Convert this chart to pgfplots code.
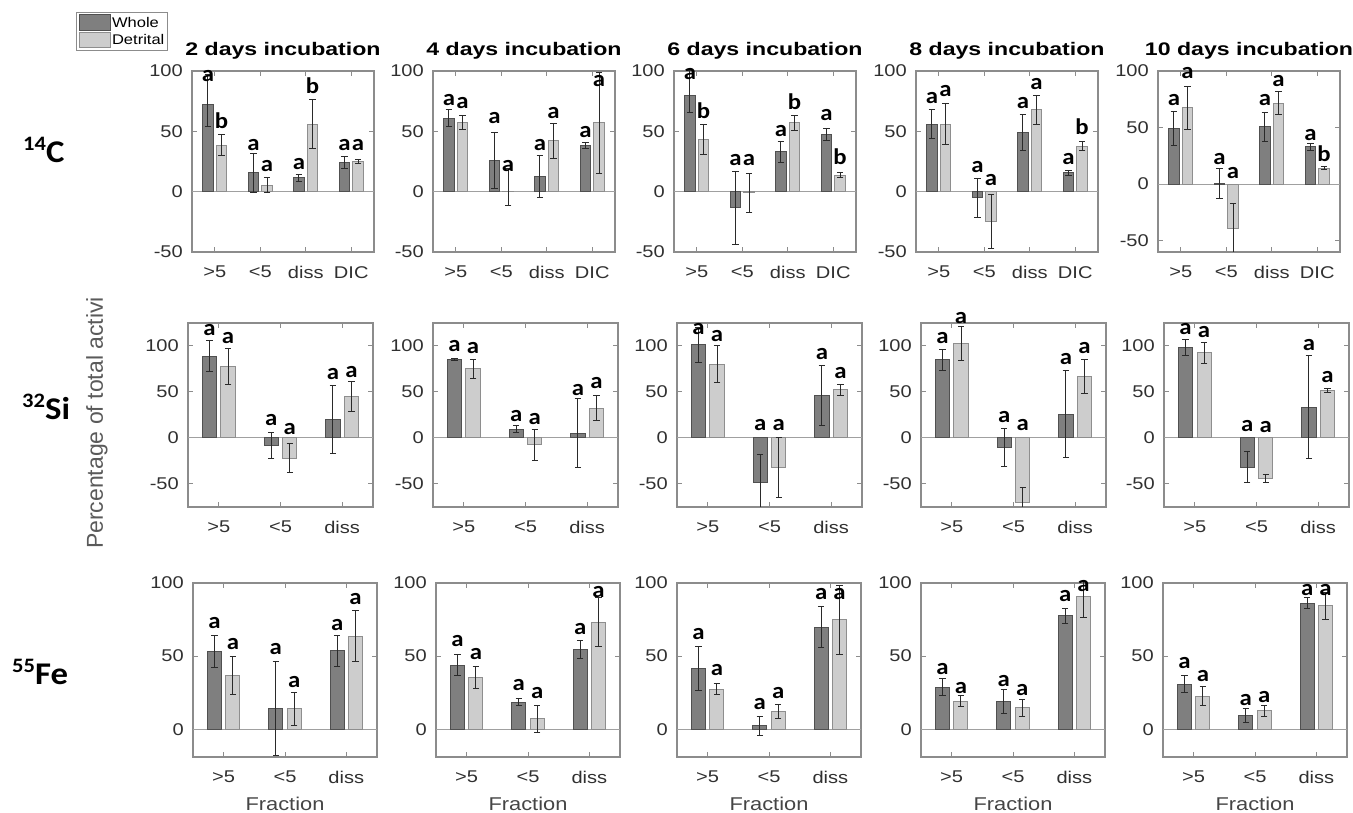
\documentclass[border=0pt]{standalone}
\usepackage{pgfplots}
\pgfplotsset{compat=1.18}
\usepackage{pgfplotstable}
\usepackage{fontspec}
\setmainfont{Liberation Sans}[FakeStretch=1.18]
\newfontfamily\titlefont{Liberation Sans}[FakeStretch=1.27]
\newfontfamily\ylabfont{Liberation Sans}
\newfontfamily\letfont{Carlito}[FakeStretch=1.1]

\definecolor{wholefill}{HTML}{7F7F7F}
\definecolor{wholeedge}{HTML}{505050}
\definecolor{detfill}{HTML}{CDCDCD}
\definecolor{detedge}{HTML}{8E8E8E}
\definecolor{axcol}{HTML}{8C8C8C}
\definecolor{errcol}{HTML}{2A2A2A}
\definecolor{ticktext}{HTML}{303030}
\definecolor{labgray}{HTML}{454545}
\definecolor{ylabgray}{HTML}{5A5A5A}
\definecolor{zerogray}{HTML}{A0A0A0}

\newcommand\letterfont{\letfont\bfseries\fontsize{22.5}{22}\selectfont}
\newcommand\tickfont{\fontsize{17}{18}\selectfont}
\newcommand\rowlab[2]{\raisebox{12pt}{\letfont\bfseries\fontsize{20.5}{21}\selectfont #1}{\letfont\bfseries\fontsize{31.6}{32}\selectfont #2}}

% columns: x, Whole value, +err, -err, letter height, letter, Detrital value, +err, -err, letter height, letter
% ---------- 14C ----------
\pgfplotstableread{
x w wp wm wy wl d dp dm dy dl
1 72 25 18 91 a 38.5 8.5 8.5 52 b
2 15.5 16 16 34 a 5.5 6 6 16 a
3 11.5 3 3 18 a 56 20.5 20.5 81 b
4 24.5 5 5 34 a 25.2 1.5 1.5 34 a
}\TCa
\pgfplotstableread{
x w wp wm wy wl d dp dm dy dl
1 61 7 7 71.5 a 57.5 6 6 69 a
2 26 23 23 56 a 0.5 19 12 16 a
3 12.5 17.5 17.5 33.5 a 42 14.5 14.5 60.5 a
4 38 2.6 2.6 44.5 a 57 42 42 87 a
}\TCb
\pgfplotstableread{
x w wp wm wy wl d dp dm dy dl
1 80 20 14 93 a 43 12.3 12.3 60.5 b
2 -13.5 30 30 21.5 a -1 16.4 16.4 21.5 a
3 33 8.5 8.5 45.5 a 57 6 6 67.5 b
4 47.2 5 5 58.5 a 13.8 2.2 2.2 22 b
}\TCc
\pgfplotstableread{
x w wp wm wy wl d dp dm dy dl
1 56 12.3 12.3 72.5 a 56 16.7 16.7 78.5 a
2 -5.2 16.2 16.2 15.7 a -25 22.3 22.3 4.7 a
3 49 15 15 68.3 a 68 12 12 84.6 a
4 15.6 2.3 2.3 22.6 a 37.5 3.8 3.8 46.8 b
}\TCd
\pgfplotstableread{
x w wp wm wy wl d dp dm dy dl
1 49 15 15 69 a 67.3 19.4 19.4 92.6 a
2 0.6 13.6 13.6 17 a -39 21.5 21.5 4.7 a
3 50.7 13 13 69 a 71.7 10.5 10.5 86 a
4 33 3.3 3.3 38.5 a 14.2 1.2 1.2 20 b
}\TCe
% ---------- 32Si ----------
\pgfplotstableread{
x w wp wm wy wl d dp dm dy dl
1 89 16.5 16.5 111 a 77.4 19.6 19.6 101.8 a
2 -8 14.4 14.4 12.7 a -21.8 15.3 15.3 3.6 a
3 19.6 37 37 63 a 44.7 16.3 16.3 65.5 a
}\TSa
\pgfplotstableread{
x w wp wm wy wl d dp dm dy dl
1 85.4 1.3 1.3 93.8 a 75 10.7 10.7 91.6 a
2 9.5 4 4 17.5 a -7.3 16.7 16.7 14.5 a
3 5.4 37 37 46 a 32.4 13.8 13.8 53.5 a
}\TSb
\pgfplotstableread{
x w wp wm wy wl d dp dm dy dl
1 101.5 19 19 111.6 a 80 20 20 104.7 a
2 -48 30 30 7.3 a -32.5 32.5 32.5 7.3 a
3 46.5 32.4 32.4 84.7 a 52.2 6 6 64.4 a
}\TSc
\pgfplotstableread{
x w wp wm wy wl d dp dm dy dl
1 85 11.5 11.5 101.8 a 103 18.7 18.7 124.5 a
2 -10.4 21 21 16.4 a -70 16 16 7.3 a
3 26 47 47 79 a 67.1 18.7 18.7 91 a
}\TSd
\pgfplotstableread{
x w wp wm wy wl d dp dm dy dl
1 98.4 8.6 8.6 111.6 a 92.7 11.6 11.6 109 a
2 -31.6 16.4 16.4 6.2 a -43.8 4.5 4.5 5.5 a
3 33.6 56 56 95 a 51.8 2.4 2.4 60 a
}\TSe
% ---------- 55Fe ----------
\pgfplotstableread{
x w wp wm wy wl d dp dm dy dl
1 53 11 11 68.6 a 36.7 12.8 12.8 54.5 a
2 14 32 32 51 a 13.9 11.2 11.2 28.4 a
3 53.6 10.4 10.4 67 a 63.5 17.5 17.5 85 a
}\TFa
\pgfplotstableread{
x w wp wm wy wl d dp dm dy dl
1 43.7 7.3 7.3 56.4 a 35.2 7.5 7.5 47.7 a
2 18.6 2.7 2.7 26 a 7 9.3 9.3 20.5 a
3 54.6 6 6 64.8 a 73.3 16.5 16.5 89.8 a
}\TFb
\pgfplotstableread{
x w wp wm wy wl d dp dm dy dl
1 41.6 14.8 14.8 61.4 a 27.2 3.8 3.8 36.4 a
2 2.2 6.4 6.4 13.2 a 12 4.7 4.7 21 a
3 69.9 13.8 13.8 88.6 a 74.7 23.7 23.7 88.6 a
}\TFc
\pgfplotstableread{
x w wp wm wy wl d dp dm dy dl
1 28.7 5.8 5.8 37 a 19.2 3.7 3.7 24.3 a
2 19 8.5 8.5 29 a 14.8 5.8 5.8 23 a
3 77.5 5 5 86.8 a 91 14.8 14.8 93.8 a
}\TFd
\pgfplotstableread{
x w wp wm wy wl d dp dm dy dl
1 30.9 6.1 6.1 41 a 22.6 6.4 6.4 32.4 a
2 9.3 4.6 4.6 16.2 a 12.5 3.5 3.5 17.8 a
3 86.1 3.7 3.7 91.4 a 84.3 9.5 9.5 91.4 a
}\TFe

\pgfplotsset{
  errs/.style={error bars/.cd, y dir=both, y explicit,
    error bar style={line width=1pt, errcol},
    error mark options={rotate=90, mark size=3.2pt, line width=1pt, errcol}},
  wbar/.style={ybar, bar width=0.23, bar shift=0pt, fill=wholefill, draw=wholeedge, line width=1pt, errs},
  dbar/.style={ybar, bar width=0.23, bar shift=0pt, fill=detfill, draw=detedge, line width=1pt, errs},
  letters/.style={draw=none, forget plot, nodes near coords, point meta=explicit symbolic,
    nodes near coords style={anchor=south, inner sep=0pt, font=\letterfont, text=black}},
  panel/.style={scale only axis, anchor=south west, clip=true,
    axis line style={axcol, line width=1.2pt},
    tick style={axcol, line width=1pt}, major tick length=5pt, tick align=inside,
    xmin=0.5, xmax=#1+0.5, xtick={1,...,#1},
    tick label style={color=ticktext, font=\tickfont},
    yticklabel style={anchor=east, inner sep=0pt, xshift=-9pt},
    xticklabel style={anchor=north, inner sep=0pt, yshift=-14pt},
    extra y ticks={0}, extra y tick labels={},
    extra y tick style={grid=major, major grid style={zerogray, line width=1pt}, major tick length=0pt},
    title style={font=\fontsize{18.2}{20}\selectfont\titlefont\bfseries, inner sep=0pt, at={(0.5,1)}, anchor=south, yshift=6pt},
    xlabel style={at={(axis description cs:0.5,0)}, anchor=north, inner sep=0pt, yshift=-40pt,
      font=\fontsize{18.5}{20}\selectfont, color=labgray},
  },
  rowC/.style={panel=4, width=182pt, height=181pt, ymin=-50, ymax=100,
    ytick={-50,0,50,100}, yticklabels={-50,0,50,100}, xticklabels={>5,<5,diss,DIC}},
  rowS/.style={panel=3, width=185pt, height=184pt, ymin=-75, ymax=125,
    ytick={-50,0,50,100}, yticklabels={-50,0,50,100}, xticklabels={>5,<5,diss}},
  rowF/.style={panel=3, width=184pt, height=174pt, ymin=-19, ymax=100,
    ytick={0,50,100}, yticklabels={0,50,100}, xticklabels={>5,<5,diss}, xlabel={Fraction}},
}

\newcommand\panel[1]{%
  \addplot[wbar] table[x expr=\thisrow{x}-0.15, y=w, y error plus=wp, y error minus=wm]{#1};
  \addplot[dbar] table[x expr=\thisrow{x}+0.15, y=d, y error plus=dp, y error minus=dm]{#1};
  \addplot[letters] table[x expr=\thisrow{x}-0.15, y=wy, meta=wl]{#1};
  \addplot[letters] table[x expr=\thisrow{x}+0.15, y=dy, meta=dl]{#1};
}

\begin{document}
\begin{tikzpicture}[x=1pt,y=1pt]
\useasboundingbox (0,0) rectangle (1353,813);

% ---- row 1: 14C ----
\begin{axis}[rowC, at={(192pt,561pt)}, title={2 days incubation},
  legend entries={Whole,Detrital},
  legend style={at={(axis description cs:-0.637,1.326)}, anchor=north west, draw=axcol, line width=1pt,
    font=\fontsize{14}{15}\selectfont, inner xsep=2pt, inner ysep=2pt, row sep=1pt,
    nodes={inner sep=1.5pt}},
  legend cell align=left,
  legend image code/.code={\draw[#1, line width=1pt] (0pt,-7.5pt) rectangle (31pt,8pt);}]
\panel{\TCa}
\end{axis}
\begin{axis}[rowC, at={(433pt,561pt)}, title={4 days incubation}]
\panel{\TCb}
\end{axis}
\begin{axis}[rowC, at={(674pt,561pt)}, title={6 days incubation}]
\panel{\TCc}
\end{axis}
\begin{axis}[rowC, at={(916pt,561pt)}, title={8 days incubation}]
\panel{\TCd}
\end{axis}
\begin{axis}[rowC, at={(1158pt,561pt)}, title={10 days incubation}, ymin=-60]
\panel{\TCe}
\end{axis}

% ---- row 2: 32Si ----
\begin{axis}[rowS, at={(188pt,306pt)}]
\panel{\TSa}
\end{axis}
\begin{axis}[rowS, at={(433pt,306pt)}]
\panel{\TSb}
\end{axis}
\begin{axis}[rowS, at={(677pt,306pt)}]
\panel{\TSc}
\end{axis}
\begin{axis}[rowS, at={(921pt,306pt)}]
\panel{\TSd}
\end{axis}
\begin{axis}[rowS, at={(1164pt,306pt)}]
\panel{\TSe}
\end{axis}

% ---- row 3: 55Fe ----
\begin{axis}[rowF, at={(193pt,56pt)}]
\panel{\TFa}
\end{axis}
\begin{axis}[rowF, at={(436pt,56pt)}]
\panel{\TFb}
\end{axis}
\begin{axis}[rowF, at={(677pt,56pt)}]
\panel{\TFc}
\end{axis}
\begin{axis}[rowF, at={(921pt,56pt)}]
\panel{\TFd}
\end{axis}
\begin{axis}[rowF, at={(1163pt,56pt)}]
\panel{\TFe}
\end{axis}

% row labels and shared y label
\node[anchor=base west, inner sep=0pt] at (23,650) {\rowlab{14}{C}};
\node[anchor=base west, inner sep=0pt] at (22,393) {\rowlab{32}{Si}};
\node[anchor=base west, inner sep=0pt] at (12,128) {\rowlab{55}{Fe}};
\node[rotate=90, inner sep=0pt, text=ylabgray, font=\ylabfont\fontsize{23}{23}\selectfont] at (97,390) {Percentage of total activi};
\end{tikzpicture}
\end{document}
